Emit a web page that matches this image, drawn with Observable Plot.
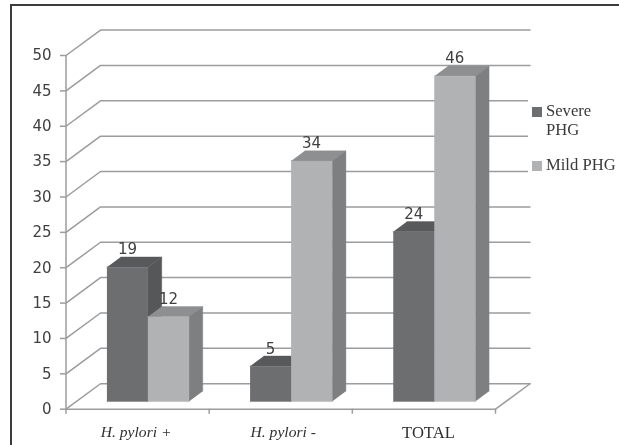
<!DOCTYPE html>
<html>
<head>
<meta charset="utf-8">
<script src="https://cdn.jsdelivr.net/npm/d3@7"></script>
<script src="https://cdn.jsdelivr.net/npm/@observablehq/plot@0.6"></script>
<style>
  html, body { margin: 0; padding: 0; background: #fff; overflow: hidden; }
  #page { position: relative; width: 619px; height: 445px; overflow: hidden; filter: blur(0.35px); }
  #frame { position: absolute; left: 10px; top: 4px; width: 700px; height: 500px;
           border-left: 2px solid #3c3c3e; border-top: 2px solid #3c3c3e; box-sizing: border-box; }
  #legend { position: absolute; left: 528px; top: 96px; width: 91px; height: 84px; background: #fff;
            font: 16.6px "Liberation Serif", serif; color: #3a3a3c; }
  .sw { position: absolute; left: 3.5px; width: 10.5px; height: 10.5px; }
  .lb { position: absolute; left: 18px; line-height: 18px; white-space: nowrap; }
</style>
</head>
<body>
<div id="page">
  <div id="frame"></div>
  <div id="chart"></div>
  <div id="legend">
    <div class="sw" style="top:10.5px;background:#6d6e70"></div>
    <div class="lb" style="top:6px">Severe</div>
    <div class="lb" style="top:25px">PHG</div>
    <div class="sw" style="top:64.5px;background:#b1b2b4"></div>
    <div class="lb" style="top:60px">Mild PHG</div>
  </div>
</div>
<script>
const categories = ["H. pylori +", "H. pylori -", "TOTAL"];
const severe = [19, 5, 24];
const mild = [12, 34, 46];
const yTicks = [0, 5, 10, 15, 20, 25, 30, 35, 40, 45, 50];
const groupTicks = [0, 1, 2, 3];

const colors = {
  severe: { front: "#6d6e70", top: "#58595b", side: "#565759" },
  mild: { front: "#b1b2b4", top: "#8e8f91", side: "#7e7f81" }
};
const gridColor = "#9b9c9e";
const textColor = "#404042";

// Oblique projection, expressed in scale units
const depthX = 0.241, depthY = 3.6;
const P = (x, v, d) => ({ x: x + depthX * d, y: v + depthY * d });

const barWidth = 0.2865, nearD = 0.3, farD = 0.7;

const faces = [];
function addBar(key, cat, offset, value) {
  const x0 = cat + 0.5 + offset * barWidth, x1 = x0 + barWidth;
  const c = colors[key];
  const add = (id, col, pts) => pts.forEach(p => faces.push({ ...p, id, col }));
  add(key + cat + "top", c.top, [P(x0, value, nearD), P(x1, value, nearD), P(x1, value, farD), P(x0, value, farD)]);
  add(key + cat + "side", c.side, [P(x1, 0, nearD), P(x1, value, nearD), P(x1, value, farD), P(x1, 0, farD)]);
  add(key + cat + "front", c.front, [P(x0, 0, nearD), P(x1, 0, nearD), P(x1, value, nearD), P(x0, value, nearD)]);
}
categories.forEach((_, i) => {
  addBar("severe", i, -1, severe[i]);
  addBar("mild", i, 0, mild[i]);
});

const grid = [];
yTicks.forEach(v => {
  [P(0, v, 0), P(0, v, 1), P(3, v, 1)].forEach(p => grid.push({ ...p, id: "g" + v }));
});
[P(0, 0, 0), P(3, 0, 0), P(3, 0, 1)].forEach(p => grid.push({ ...p, id: "floor" }));
[P(0, 0, 0), P(0, 50, 0)].forEach(p => grid.push({ ...p, id: "axis" }));

const labels = [];
categories.forEach((_, i) => {
  labels.push({ ...P(i + 0.5 - barWidth / 2, severe[i], nearD), t: severe[i] });
  labels.push({ ...P(i + 0.5 + barWidth / 2, mild[i], nearD), t: mild[i] });
});

const categoryStyle = [
  { size: 15.6, italic: true, dx: -1.5 },
  { size: 15.6, italic: true, dx: 2.5 },
  { size: 16.6, italic: false, dx: 4.5 }
];

const chart = Plot.plot({
  width: 619, height: 445,
  marginLeft: 65.5, marginRight: 124, marginTop: 55, marginBottom: 36.3,
  style: { background: "transparent", overflow: "visible" },
  x: { domain: [0, 3], axis: null },
  y: { domain: [0, 50], axis: null },
  color: { type: "identity" },
  marks: [
    Plot.line(grid, { x: "x", y: "y", z: "id", stroke: gridColor, strokeWidth: 1.5, curve: "linear" }),
    Plot.axisY({ ticks: yTicks, tickSize: 5.5, tickPadding: 9, stroke: gridColor, strokeWidth: 1.5, strokeOpacity: 1,
      fill: textColor, fontSize: 15, fontFamily: "DejaVu Sans", label: null }),
    Plot.axisX({ ticks: groupTicks, tickSize: 5, tickFormat: () => "", stroke: gridColor, strokeWidth: 1.5, strokeOpacity: 1, label: null }),
    Plot.line(faces, { x: "x", y: "y", z: "id", fill: "col", stroke: "col", strokeWidth: 0.4 }),
    Plot.text(labels, { x: "x", y: "y", text: "t", dy: -17.5, fontSize: 15, fontFamily: "DejaVu Sans", fill: textColor }),
    ...categories.map((name, i) => Plot.text([name], {
      x: () => i + 0.5, y: () => 0, text: d => d, dy: 23, dx: categoryStyle[i].dx,
      fontSize: categoryStyle[i].size, fontFamily: "Liberation Serif",
      fontStyle: categoryStyle[i].italic ? "italic" : "normal", fill: "#2f2f31"
    }))
  ]
});
chart.style.position = "absolute";
chart.style.left = "0";
chart.style.top = "0";
document.getElementById("chart").appendChild(chart);
</script>
</body>
</html>
